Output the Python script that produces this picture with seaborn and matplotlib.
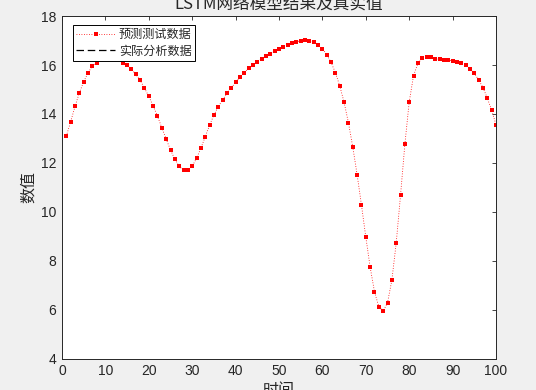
import numpy as np
import pandas as pd
import matplotlib
matplotlib.use("Agg")
import matplotlib.pyplot as plt
from matplotlib.lines import Line2D
import seaborn as sns

# ---- data ----
time_steps = list(range(1, 101))
predicted = [
    13.10, 13.69, 14.31, 14.87, 15.32, 15.69, 15.95, 16.09, 16.25, 16.36,
    16.40, 16.36, 16.25, 16.10, 15.99, 15.83, 15.62, 15.38, 15.06, 14.72,
    14.33, 13.91, 13.44, 12.98, 12.53, 12.15, 11.86, 11.70, 11.70, 11.86,
    12.19, 12.60, 13.07, 13.54, 13.96, 14.30, 14.57, 14.85, 15.06, 15.30,
    15.50, 15.69, 15.87, 16.02, 16.14, 16.26, 16.37, 16.46, 16.56, 16.66,
    16.74, 16.82, 16.90, 16.96, 16.99, 17.01, 16.97, 16.93, 16.83, 16.67,
    16.43, 16.11, 15.69, 15.15, 14.48, 13.64, 12.65, 11.52, 10.28, 8.97,
    7.74, 6.73, 6.12, 5.94, 6.28, 7.20, 8.71, 10.67, 12.76, 14.49,
    15.57, 16.07, 16.28, 16.33, 16.32, 16.26, 16.24, 16.21, 16.20, 16.17,
    16.14, 16.07, 15.99, 15.85, 15.66, 15.40, 15.08, 14.65, 14.15, 13.56,
]
series_labels = ["预测测试数据", "实际分析数据"]
title_text = "LSTM网络模型结果及真实值"
x_label = "时间"
y_label = "数值"
x_ticks = list(range(0, 101, 10))
y_ticks = list(range(4, 19, 2))

df = pd.DataFrame({"t": time_steps, "v": predicted})

sns.set_style("white")
plt.rcParams["font.family"] = ["Liberation Sans", "Noto Sans CJK SC", "DejaVu Sans"]

fig = plt.figure(figsize=(5.36, 3.90), dpi=100, facecolor="#f0f0f0")
ax = fig.add_axes([62 / 536, 1 - 358.5 / 390, (496 - 62) / 536, (358.5 - 16.2) / 390])
ax.set_facecolor("white")

sns.lineplot(data=df, x="t", y="v", ax=ax, color="red", linestyle=(0, (1, 2)),
             linewidth=0.6, marker="s", markersize=2.3, markeredgewidth=0,
             markerfacecolor="red", legend=False)

ax.set_xlim(0, 100)
ax.set_ylim(4, 18)
ax.set_xticks(x_ticks)
ax.set_yticks(y_ticks)
ax.tick_params(direction="in", length=3, width=0.6, colors="#262626",
               labelsize=10, top=True, right=True, labelcolor="#262626", pad=4)
for s in ax.spines.values():
    s.set_color("#262626")
    s.set_linewidth(0.7)
    s.set_visible(True)

ax.set_xlabel(x_label, fontsize=11.5, family=["Noto Sans CJK SC"], color="#262626", labelpad=3)
ax.set_ylabel(y_label, fontsize=11.5, family=["Noto Sans CJK SC"], color="#262626", labelpad=3)

fig.text(0.5 * (62 + 496) / 536, 1 - 4 / 390, title_text, ha="center", va="center",
         fontsize=12, family=["Noto Sans CJK SC"], color="#262626")

handles = [
    Line2D([], [], color="red", linestyle=(0, (1, 2)), linewidth=0.6, marker="s",
           markersize=2.3, markeredgewidth=0, markevery=[1]),
    Line2D([], [], color="black", linestyle=(0, (6, 3)), linewidth=0.9),
]
leg = ax.legend(handles, series_labels, loc="upper left", bbox_to_anchor=(0.025, 0.975),
                prop={"family": ["Noto Sans CJK SC"], "size": 8.7}, frameon=True,
                fancybox=False, framealpha=1, edgecolor="black", borderpad=0.3,
                handlelength=3.2, handletextpad=0.3, labelspacing=0.25, borderaxespad=0)
leg.get_frame().set_linewidth(0.7)

fig.savefig("out.png", dpi=100, facecolor=fig.get_facecolor())
